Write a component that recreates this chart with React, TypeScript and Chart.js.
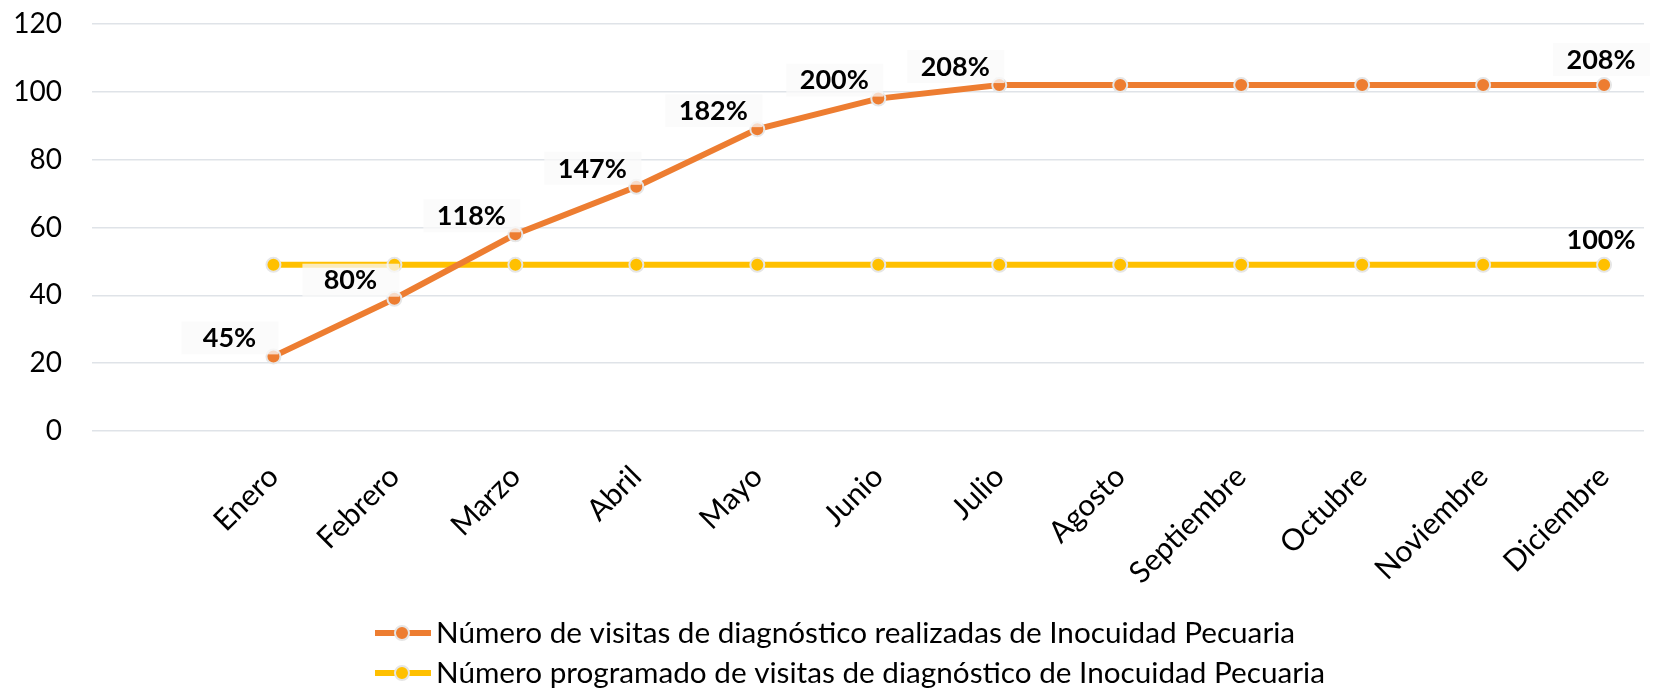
import React, { useEffect, useRef } from "react";
import { Chart, registerables } from "chart.js";

Chart.register(...registerables);

const MONTHS = [
  "Enero", "Febrero", "Marzo", "Abril", "Mayo", "Junio",
  "Julio", "Agosto", "Septiembre", "Octubre", "Noviembre", "Diciembre",
];
const REALIZADAS = [22, 39, 58, 72, 89, 98, 102, 102, 102, 102, 102, 102];
const PROGRAMADAS = [49, 49, 49, 49, 49, 49, 49, 49, 49, 49, 49, 49];
const REALIZADAS_LABELS = ["45%", "80%", "118%", "147%", "182%", "200%", "208%", "", "", "", "", "208%"];
const PROGRAMADAS_LABELS = ["", "", "", "", "", "", "", "", "", "", "", "100%"];
const Y_TICKS = [0, 20, 40, 60, 80, 100, 120];
const SERIES_NAMES = [
  "Número de visitas de diagnóstico realizadas de Inocuidad Pecuaria",
  "Número programado de visitas de diagnóstico de Inocuidad Pecuaria",
];

const ORANGE = "#ED7D31";
const YELLOW = "#FFC000";
const FONT = "Lato, 'Open Sans', sans-serif";

const dataLabelPlugin = {
  id: "dataLabels",
  afterDatasetsDraw(chart: any) {
    const ctx = chart.ctx;
    chart.data.datasets.forEach((ds: any, di: number) => {
      const meta = chart.getDatasetMeta(di);
      const labels: string[] = ds.pointLabels || [];
      meta.data.forEach((pt: any, i: number) => {
        const txt = labels[i];
        if (!txt) return;
        const last = i === meta.data.length - 1;
        const cx = pt.x + (last ? -3 : -44);
        const cy = pt.y + (last ? -26 : -19);
        ctx.save();
        if (ds.labelBox) {
          ctx.fillStyle = "rgba(250,250,250,0.75)";
          ctx.fillRect(cx - 48, cy - 16, 97, 33);
        }
        ctx.font = "bold 27px " + FONT;
        ctx.fillStyle = "#000";
        ctx.textAlign = "center";
        ctx.textBaseline = "middle";
        ctx.fillText(txt, cx, cy + 1);
        ctx.restore();
      });
    });
  },
};

const legendPlugin = {
  id: "customLegend",
  afterDraw(chart: any) {
    const ctx = chart.ctx;
    const x0 = 375;
    const rows = [633, 673];
    chart.data.datasets.forEach((ds: any, i: number) => {
      const y = rows[i];
      ctx.save();
      ctx.strokeStyle = ds.borderColor;
      ctx.lineWidth = 6;
      ctx.beginPath();
      ctx.moveTo(x0, y);
      ctx.lineTo(x0 + 56, y);
      ctx.stroke();
      ctx.beginPath();
      ctx.arc(x0 + 27, y, 7, 0, Math.PI * 2);
      ctx.fillStyle = ds.pointBackgroundColor;
      ctx.fill();
      ctx.lineWidth = 2;
      ctx.strokeStyle = ds.pointBorderColor;
      ctx.stroke();
      ctx.font = "29.7px " + FONT;
      ctx.fillStyle = "#000";
      ctx.textAlign = "left";
      ctx.textBaseline = "middle";
      ctx.fillText(ds.label, x0 + 61, y);
      ctx.restore();
    });
  },
};

export default function App() {
  const ref = useRef<HTMLCanvasElement>(null);

  useEffect(() => {
    if (!ref.current) return;
    const mk = (arr: number[]) => arr.map((v, i) => ({ x: i, y: v }));
    const chart = new Chart(ref.current, {
      type: "line",
      data: {
        datasets: [
          {
            label: SERIES_NAMES[0],
            data: mk(REALIZADAS),
            borderColor: ORANGE,
            backgroundColor: ORANGE,
            borderWidth: 6,
            pointRadius: 7,
            pointBorderWidth: 2,
            pointBackgroundColor: ORANGE,
            pointBorderColor: "#e6e6e6",
            tension: 0,
            pointLabels: REALIZADAS_LABELS,
            labelBox: true,
          } as any,
          {
            label: SERIES_NAMES[1],
            data: mk(PROGRAMADAS),
            borderColor: YELLOW,
            backgroundColor: YELLOW,
            borderWidth: 6,
            pointRadius: 7,
            pointBorderWidth: 2,
            pointBackgroundColor: YELLOW,
            pointBorderColor: "#e6e6e6",
            tension: 0,
            pointLabels: PROGRAMADAS_LABELS,
            labelBox: false,
          } as any,
        ],
      },
      options: {
        animation: false,
        responsive: false,
        maintainAspectRatio: false,
        layout: { padding: { top: 24, left: 0, right: 0, bottom: 0 } },
        plugins: { legend: { display: false }, tooltip: { enabled: false } },
        scales: {
          x: {
            type: "linear",
            min: -1.5,
            max: 11.33,
            grid: { display: false },
            border: { display: false },
            afterBuildTicks: (scale: any) => {
              scale.ticks = MONTHS.map((_, i) => ({ value: i }));
            },
            afterFit: (scale: any) => {
              scale.height = 690 - 431;
              scale.paddingLeft = 0;
              scale.paddingRight = 0;
            },
            ticks: {
              autoSkip: false,
              maxRotation: 45,
              minRotation: 45,
              padding: 20,
              color: "#000",
              font: { family: FONT, size: 30 },
              callback: (v: any) => MONTHS[v as number] ?? "",
            },
          },
          y: {
            min: 0,
            max: 120,
            afterBuildTicks: (scale: any) => {
              scale.ticks = Y_TICKS.map((v) => ({ value: v }));
            },
            afterFit: (scale: any) => {
              scale.width = 92;
              scale.paddingTop = 0;
              scale.paddingBottom = 0;
            },
            grid: { color: "#dfe3e8", lineWidth: 1.5, drawTicks: false },
            border: { display: false },
            ticks: {
              padding: 30,
              color: "#000",
              font: { family: FONT, size: 28 },
            },
          },
        },
      },
      plugins: [dataLabelPlugin, legendPlugin],
    });
    return () => chart.destroy();
  }, []);

  return (
    <div style={{ position: "fixed", left: 0, top: 0, width: 1653, height: 690, background: "#fff" }}>
      <canvas ref={ref} width={1653} height={690} style={{ width: 1653, height: 690 }} />
    </div>
  );
}
